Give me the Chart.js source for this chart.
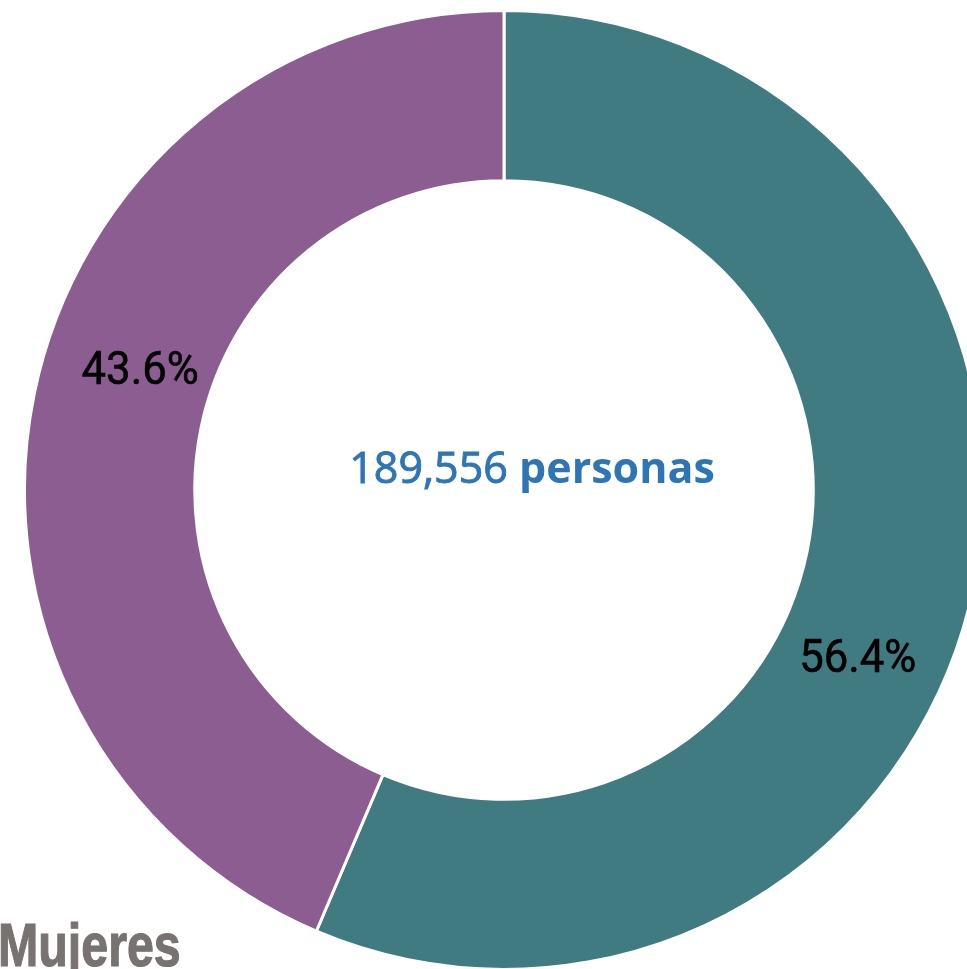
<!DOCTYPE html>
<html>
<head>
<meta charset="utf-8">
<script src="https://cdn.jsdelivr.net/npm/chart.js@4.4.0/dist/chart.umd.min.js"></script>
<style>
  html, body { margin: 0; padding: 0; background: #fff; overflow: hidden; }
  body { width: 967px; height: 969px; position: relative; }
  #wrap { position: absolute; left: 23px; top: 9px; width: 962px; height: 962px; }
  #legendLabel {
    position: absolute; left: -2px; top: 914px;
    font-family: "Liberation Sans", Arial, sans-serif;
    font-weight: bold; font-size: 62px; line-height: 62px; color: #787271;
    -webkit-text-stroke: 1.2px #787271;
    white-space: nowrap;
    transform: scaleX(0.78); transform-origin: 0 0;
  }
</style>
</head>
<body>
<div id="wrap"><canvas id="chart" width="962" height="962"></canvas></div>
<div id="legendLabel">Mujeres</div>
<script>
// datos
var categorias = ['Hombres', 'Mujeres'];
var porcentajes = [56.4, 43.6];
var colores = ['#417b82', '#8b5d90'];
var totalPersonas = '189,556';
var totalTexto = 'personas';

// where each label sits inside its slice (fraction of arc, fraction of ring width)
var labelFrac = [0.57, 0.541];
var labelRad = [0.49, 0.43];

var labelsPlugin = {
  id: 'labelsPlugin',
  afterDraw: function(chart) {
    var ctx = chart.ctx;
    var meta = chart.getDatasetMeta(0);
    ctx.save();
    ctx.font = '47px Roboto, sans-serif';
    ctx.fillStyle = '#000';
    ctx.strokeStyle = '#000';
    ctx.lineWidth = 0.6;
    ctx.textAlign = 'center';
    ctx.textBaseline = 'middle';
    meta.data.forEach(function(arc, i) {
      var p = arc.getProps(['x', 'y', 'startAngle', 'endAngle', 'innerRadius', 'outerRadius'], true);
      var a = p.startAngle + (p.endAngle - p.startAngle) * labelFrac[i];
      var r = p.innerRadius + (p.outerRadius - p.innerRadius) * labelRad[i];
      var txt = porcentajes[i].toFixed(1) + '%';
      ctx.save();
      ctx.translate(p.x + Math.cos(a) * r, p.y + Math.sin(a) * r);
      ctx.scale(0.93, 1);
      ctx.fillText(txt, 0, 0);
      ctx.strokeText(txt, 0, 0);
      ctx.restore();
    });

    // texto central
    var c = meta.data[0];
    var fontA = '43px "Open Sans", sans-serif';
    var fontB = 'bold 43px "Open Sans", sans-serif';
    ctx.fillStyle = '#2e75b6';
    ctx.strokeStyle = '#2e75b6';
    ctx.lineWidth = 0.9;
    ctx.textAlign = 'left';
    ctx.textBaseline = 'alphabetic';
    ctx.font = fontA;
    var w1 = ctx.measureText(totalPersonas + ' ').width;
    ctx.font = fontB;
    var w2 = ctx.measureText(totalTexto).width;
    var x0 = c.x + 28 - (w1 + w2) / 2;
    var y0 = c.y - 7;
    ctx.font = fontA;
    ctx.fillText(totalPersonas + ' ', x0, y0);
    ctx.strokeText(totalPersonas, x0, y0);
    ctx.font = fontB;
    ctx.fillText(totalTexto, x0 + w1, y0);
    ctx.restore();
  }
};

new Chart(document.getElementById('chart'), {
  type: 'doughnut',
  data: {
    labels: categorias,
    datasets: [{
      data: porcentajes,
      backgroundColor: colores,
      borderColor: '#ffffff',
      borderWidth: 3
    }]
  },
  options: {
    responsive: false,
    devicePixelRatio: 1,
    animation: false,
    cutout: '64.5%',
    plugins: {
      legend: { display: false },
      tooltip: { enabled: false }
    }
  },
  plugins: [labelsPlugin]
});
</script>
</body>
</html>
